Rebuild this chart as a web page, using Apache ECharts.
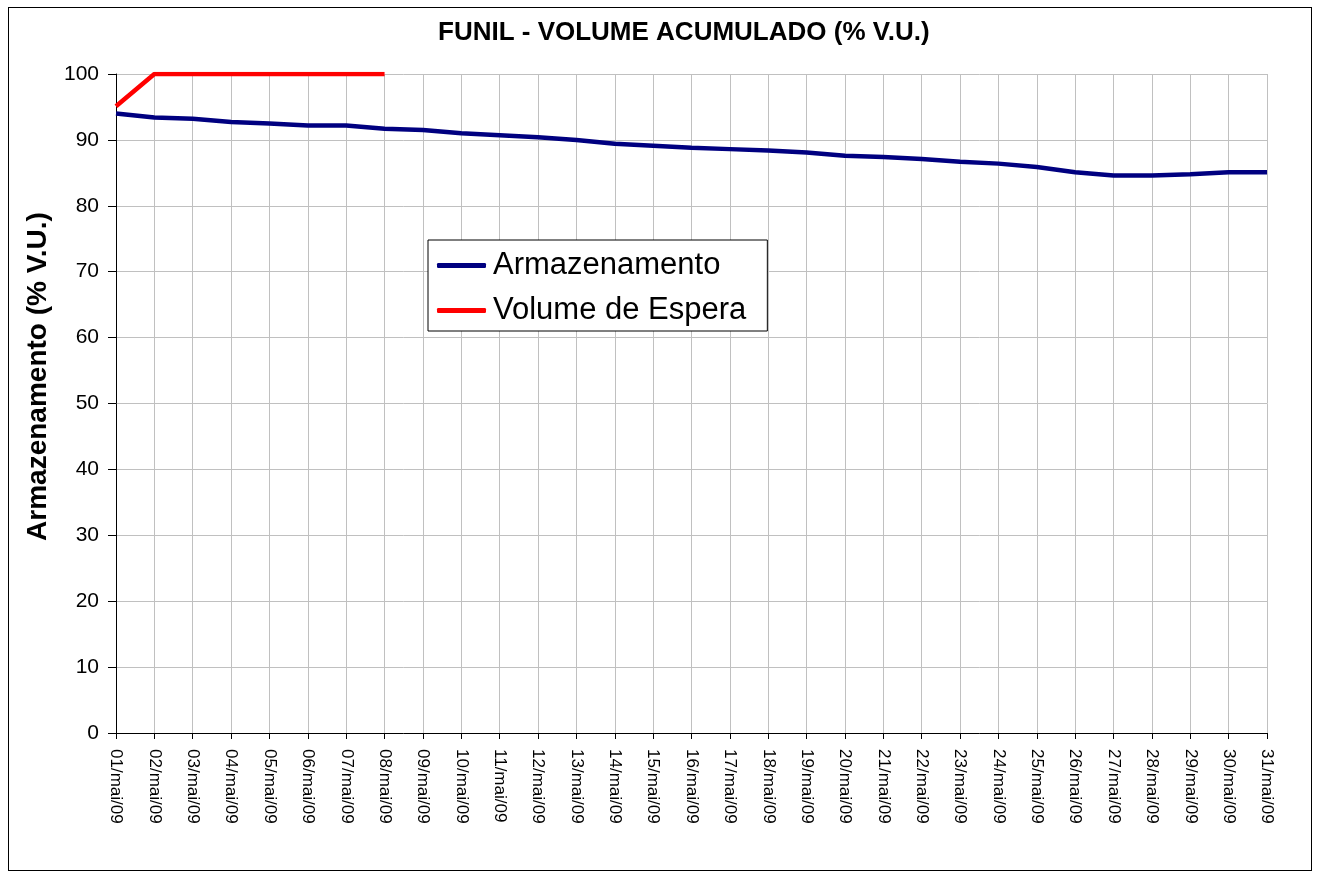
<!DOCTYPE html>
<html>
<head>
<meta charset="utf-8">
<script src="https://cdn.jsdelivr.net/npm/echarts@6/dist/echarts.min.js"></script>
<style>
html, body { margin: 0; padding: 0; background: #fff; }
#frame { position: absolute; left: 8px; top: 7px; width: 1304px; height: 864px; border: 1px solid #000; box-sizing: border-box; }
#chart { width: 1320px; height: 879px; }
</style>
</head>
<body>
<div id="frame"></div>
<div id="chart"></div>
<script>
// dias do mes
var dias = [];
for (var d = 1; d <= 31; d++) {
	dias.push((d < 10 ? '0' + d : '' + d) + '/mai/09');
}

// armazenamento (% V.U.)
var armazenamento = [94.0, 93.4, 93.2, 92.7, 92.5, 92.2, 92.2, 91.7, 91.5, 91.0,
	90.7, 90.4, 90.0, 89.4, 89.1, 88.8, 88.6, 88.4, 88.1, 87.6,
	87.4, 87.1, 86.7, 86.4, 85.9, 85.1, 84.6, 84.6, 84.8, 85.1, 85.1];

// volume de espera
var volumeEspera = [95.1, 100, 100, 100, 100, 100, 100, 100];

var option = {
	animation: false,
	title: {
		text: 'FUNIL - VOLUME ACUMULADO (% V.U.)',
		left: 433,
		top: 15,
		textStyle: {
			fontFamily: 'Liberation Sans, Arial',
			fontSize: 26,
			fontWeight: 'bold',
			color: '#000'
		}
	},
	legend: {
		orient: 'vertical',
		left: 428,
		top: 240,
		itemWidth: 49,
		itemHeight: 5,
		itemGap: 14,
		padding: [10, 21, 5, 9],
		borderColor: '#000',
		borderWidth: 1,
		backgroundColor: '#fff',
		icon: 'roundRect',
		textStyle: {
			fontFamily: 'Liberation Sans, Arial',
			fontSize: 31,
			color: '#000',
			padding: [0, 0, 0, 2]
		},
		data: ['Armazenamento', 'Volume de Espera']
	},
	grid: {
		left: 116,
		right: 53,
		top: 74,
		bottom: 146,
		containLabel: false
	},
	xAxis: {
		type: 'category',
		boundaryGap: false,
		data: dias,
		axisLine: { lineStyle: { color: '#000', width: 1 } },
		axisTick: { show: true, length: 6, lineStyle: { color: '#000' }, alignWithLabel: true },
		axisLabel: {
			rotate: -90,
			interval: 0,
			margin: 16,
			fontFamily: 'Liberation Sans, Arial',
			fontSize: 17,
			color: '#000'
		},
		splitLine: { show: true, lineStyle: { color: '#c0c0c0', width: 1 } }
	},
	yAxis: {
		type: 'value',
		min: 0,
		max: 100,
		interval: 10,
		name: 'Armazenamento (% V.U.)',
		nameLocation: 'middle',
		nameGap: 64,
		nameTextStyle: {
			fontFamily: 'Liberation Sans, Arial',
			fontSize: 28,
			fontWeight: 'bold',
			color: '#000',
			padding: [0, 0, 0, 54]
		},
		axisLine: { show: true, lineStyle: { color: '#000', width: 1 } },
		axisTick: { show: true, length: 8, lineStyle: { color: '#000' } },
		axisLabel: {
			margin: 17,
			fontFamily: 'Liberation Sans, Arial',
			fontSize: 21,
			color: '#000'
		},
		splitLine: { show: true, lineStyle: { color: '#c0c0c0', width: 1 } }
	},
	series: [{
		name: 'Armazenamento',
		type: 'line',
		data: armazenamento,
		symbol: 'none',
		lineStyle: { color: '#000080', width: 4.5 },
		itemStyle: { color: '#000080' },
		z: 3
	}, {
		name: 'Volume de Espera',
		type: 'line',
		data: volumeEspera,
		symbol: 'none',
		lineStyle: { color: '#ff0000', width: 4.5 },
		itemStyle: { color: '#ff0000' },
		z: 4
	}]
};

echarts.init(document.getElementById('chart')).setOption(option);
</script>
</body>
</html>
